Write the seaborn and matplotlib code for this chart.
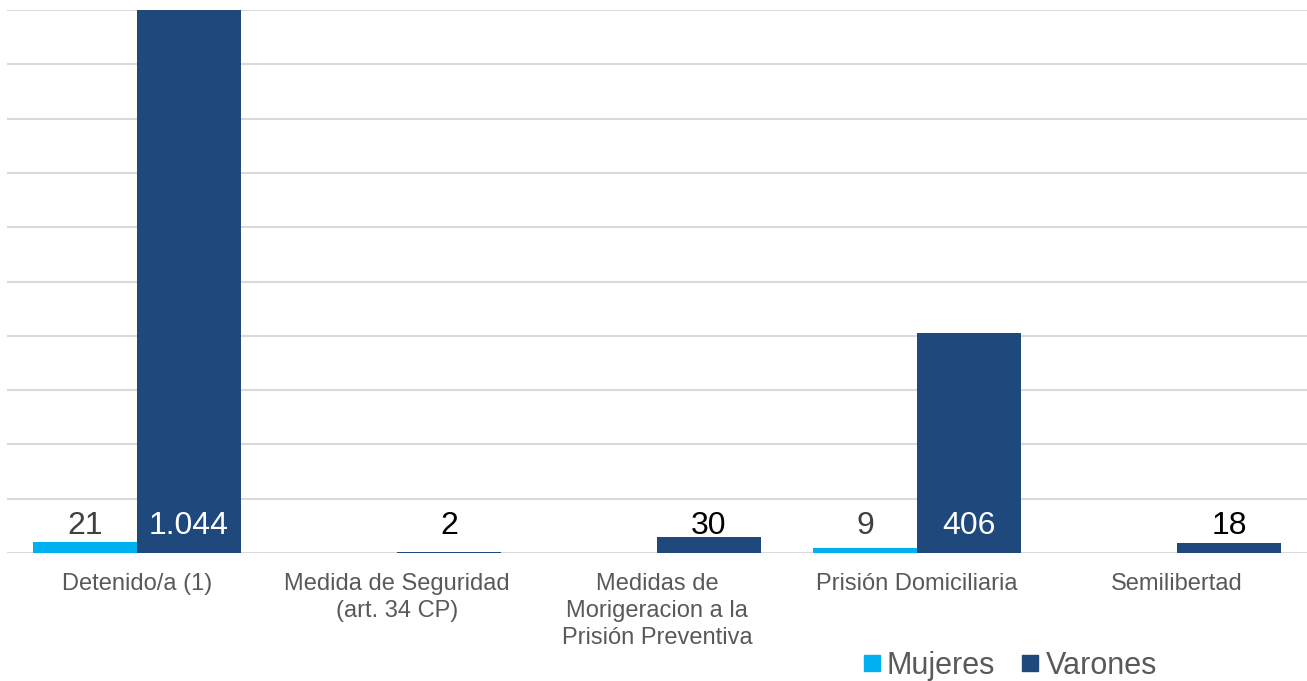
import pandas as pd
import numpy as np
import matplotlib
matplotlib.use("Agg")
import matplotlib.pyplot as plt
from matplotlib.lines import Line2D
import seaborn as sns

# data
categorias = ["Detenido/a (1)",
              "Medida de Seguridad\n(art. 34 CP)",
              "Medidas de\nMorigeracion a la\nPrisión Preventiva",
              "Prisión Domiciliaria",
              "Semilibertad"]
mujeres = [21, None, None, 9, None]
varones = [1044, 2, 30, 406, 18]
series = ["Mujeres", "Varones"]
colores = ["#00B0F0", "#1F497D"]

rows = []
for cat, m, v in zip(categorias, mujeres, varones):
    if m is not None:
        rows.append([cat, "Mujeres", m])
    if v is not None:
        rows.append([cat, "Varones", v])
data = pd.DataFrame(rows, columns=["Categoria", "Sexo", "Total"])

sns.set_style("white")
plt.rcParams['font.family'] = ['Liberation Sans', 'DejaVu Sans']

fig = plt.figure(figsize=(13.07, 6.81), dpi=100)
ax = fig.add_axes([7/1307, 1 - 553/681, 1300/1307, 543/681])

sns.barplot(data=data, x="Categoria", y="Total", hue="Sexo",
            order=categorias, hue_order=series, palette=colores,
            width=0.8, saturation=1, legend=False, linewidth=0,
            ax=ax, zorder=3)

ax.set_ylim(0, 1000)
ax.set_xlim(-0.5, len(categorias) - 0.5)
ax.set_yticks(np.arange(0, 1001, 100))
ax.yaxis.grid(True, color="#D9D9D9", linewidth=1.5, zorder=0)
ax.set_axisbelow(True)
ax.tick_params(axis="y", left=False, labelleft=False)
ax.tick_params(axis="x", bottom=False, labelsize=17, labelcolor="#595959", pad=11)
for lab in ax.get_xticklabels():
    lab.set_linespacing(1.3)
for s in ax.spines.values():
    s.set_visible(False)
ax.set_xlabel("")
ax.set_ylabel("")

def fmt(v):
    return f"{int(round(v)):,}".replace(",", ".")

for serie, cont in zip(series, ax.containers):
    for bar in cont:
        h = bar.get_height()
        if h is None or np.isnan(h) or h == 0:
            continue
        if h > 100:
            col = "white"
        elif serie == "Mujeres":
            col = "#404040"
        else:
            col = "black"
        ax.text(bar.get_x() + bar.get_width() / 2, 50, fmt(h),
                ha="center", va="center", fontsize=23, color=col, zorder=5)

handles = [Line2D([], [], marker="s", linestyle="", markersize=11, color=c) for c in colores]
fig.legend(handles, series, loc="center", bbox_to_anchor=(1010/1307, 1 - 666/681),
           ncol=2, frameon=False, fontsize=22, handlelength=0.55, handletextpad=0.22,
           columnspacing=0.88, labelcolor="#595959", borderaxespad=0, borderpad=0)

plt.savefig("out.png", dpi=100)
